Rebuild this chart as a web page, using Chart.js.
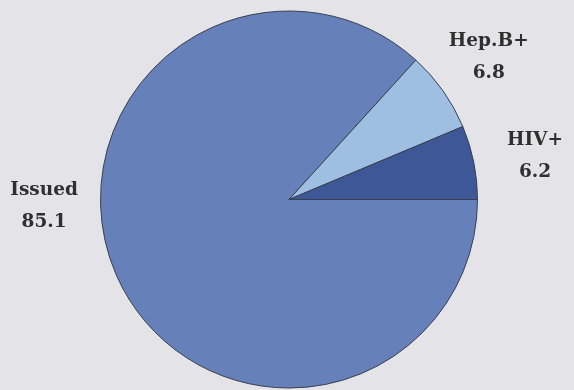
<!DOCTYPE html>
<html>
<head>
<meta charset="utf-8">
<script src="https://cdn.jsdelivr.net/npm/chart.js@4/dist/chart.umd.min.js"></script>
<style>
html,body{margin:0;padding:0;background:#e4e4e8;}
#wrap{width:574px;height:390px;}
</style>
</head>
<body>
<div id="wrap"><canvas id="c" width="574" height="390"></canvas></div>
<script>
const categories = ["Issued", "Hep.B+", "HIV+"];
const values = [85.1, 6.8, 6.2];
const valueLabels = ["85.1", "6.8", "6.2"];
const sliceColors = ["#6680b9", "#9fbfe2", "#3e5897"];

// label placement: angle (deg, screen, 0 = right, counterclockwise positive) and distance factor of radius
const labelPlacement = [
  {angle: 181.6, dist: 1.30},
  {angle: 35.4, dist: 1.30},
  {angle: 10.0, dist: 1.325}
];

const bgPlugin = {
  id: 'bg',
  beforeDraw(chart) {
    const ctx = chart.ctx;
    ctx.save();
    ctx.fillStyle = '#e4e4e8';
    ctx.fillRect(0, 0, chart.width, chart.height);
    ctx.restore();
  }
};

const labelPlugin = {
  id: 'outerLabels',
  afterDatasetsDraw(chart) {
    const ctx = chart.ctx;
    const meta = chart.getDatasetMeta(0);
    ctx.save();
    ctx.font = 'bold 18.5px "DejaVu Serif"';
    ctx.fillStyle = '#2f2f2f';
    ctx.textAlign = 'center';
    ctx.textBaseline = 'middle';
    meta.data.forEach((arc, i) => {
      const p = labelPlacement[i];
      const a = p.angle * Math.PI / 180;
      const r = arc.outerRadius * p.dist;
      const x = arc.x + Math.cos(a) * r;
      const y = arc.y - Math.sin(a) * r;
      ctx.fillText(categories[i], x, y - 16);
      ctx.fillText(valueLabels[i], x, y + 16);
    });
    ctx.restore();
  }
};

new Chart(document.getElementById('c'), {
  type: 'pie',
  data: {
    labels: categories,
    datasets: [{
      data: values,
      backgroundColor: sliceColors,
      borderColor: '#3a4050',
      borderWidth: 1
    }]
  },
  options: {
    responsive: false,
    animation: false,
    rotation: 90,
    layout: {padding: {top: 10, bottom: 1, left: 100, right: 96}},
    plugins: {
      legend: {display: false},
      tooltip: {enabled: false}
    }
  },
  plugins: [bgPlugin, labelPlugin]
});
</script>
</body>
</html>
